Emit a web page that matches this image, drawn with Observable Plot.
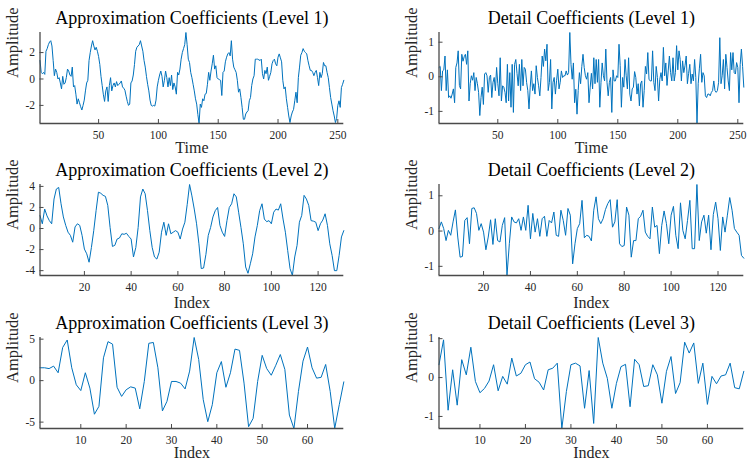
<!DOCTYPE html>
<html>
<head>
<meta charset="utf-8">
<script src="https://cdn.jsdelivr.net/npm/d3@7"></script>
<script src="https://cdn.jsdelivr.net/npm/@observablehq/plot@0.6"></script>
<style>
  body { margin: 0; background: #fff; }
  #fig { position: relative; width: 747px; height: 460px; overflow: hidden; }
  #fig > svg { position: absolute; }
</style>
</head>
<body>
<div id="fig"></div>
<script>
// Three-level wavelet decomposition: approximation and detail coefficients.
const approx1 = [
  1.4,0.5,0.4,0.5,0.35,2.1,2.3,2.6,2.8,2.9,
  2.5,1.4,0.25,0.75,0.5,0.0,0.1,-0.3,-0.75,0.2,
  -0.4,-0.3,0.1,0.75,0.6,0.3,0.2,0.9,-0.6,-0.5,
  -1.15,-1.9,-1.5,-1.8,-2.1,-2.35,-2.0,-1.6,-0.9,-0.3,
  -0.1,1.4,2.0,2.5,2.9,2.5,2.2,2.4,2.1,1.7,
  1.1,0.2,-0.5,-1.2,-1.7,-0.9,-0.6,-1.7,-0.5,0.1,
  -0.9,-0.5,-0.3,-0.6,-0.2,-0.5,-0.4,-0.3,-0.15,-0.6,
  -0.7,-0.85,-1.3,-1.7,-2.0,-1.9,-0.3,-0.15,0.3,1.1,
  2.1,2.4,2.5,2.6,2.9,2.5,2.1,1.4,0.9,0.2,
  -0.4,-0.9,-1.6,-2.0,-2.05,-2.0,-2.05,-1.6,-0.6,-0.1,
  0.3,0.6,0.2,-0.6,-0.1,0.6,0.1,-0.6,0.1,-0.5,
  0.3,-0.8,-0.3,-0.6,-1.15,0.5,0.3,0.75,1.5,2.0,
  2.3,2.6,3.52,2.6,1.5,1.25,0.5,0.1,-0.4,-0.9,
  -1.5,-1.9,-2.7,-3.37,-1.9,-2.15,-1.5,-1.65,-1.15,-1.1,
  -0.4,0.5,-0.1,0.6,1.15,1.8,0.75,1.0,0.1,0.0,
  -0.05,-0.1,-1.25,0.5,0.6,1.3,1.65,1.9,2.0,1.75,
  2.9,1.5,0.9,0.7,0.5,-0.1,-1.0,-0.75,-1.4,-2.15,
  -3.05,-3.05,-2.65,-2.5,-2.4,-1.65,-1.4,-0.5,0.0,0.25,
  1.5,1.5,1.5,1.45,1.4,1.5,0.4,0.0,0.65,0.4,
  0.9,-0.1,0.2,0.5,1.15,1.4,1.5,1.15,1.0,1.65,
  1.9,1.6,1.3,-0.1,-0.75,-0.6,-1.5,-2.15,-2.8,-3.3,
  -2.8,-2.5,-2.3,-1.65,-1.0,-1.8,0.1,0.9,1.8,2.0,
  2.3,2.1,2.0,1.9,1.4,1.0,0.65,0.65,0.5,0.25,
  0.5,0.65,0.1,-0.5,0.5,0.1,0.4,1.25,1.0,1.0,
  0.5,0.1,-0.65,-1.4,-1.9,-2.4,-2.8,-3.3,-3.0,-2.0,
  -1.65,-2.15,-0.65,-0.4,-0.1
];

const detail1 = [
  0.27,0.3,-0.4,0.17,0.2,0.6,-0.4,0.2,-0.6,-0.55,
  -0.62,-0.5,-0.35,-0.75,0.27,0.4,0.75,-0.25,-0.35,0.65,
  0.45,0.58,0.65,0.36,0.75,-0.7,-0.2,0.03,-0.1,0.12,
  -0.4,-0.02,-0.2,-0.45,-1.12,-0.6,-0.3,-0.8,0.08,0.12,
  0.03,-0.45,-0.02,0.05,-0.6,-0.16,-0.02,-0.4,0.27,-0.2,
  -0.55,0.55,-0.7,-0.26,-0.3,-0.45,-0.75,0.36,-0.7,0.12,
  -0.88,0.36,-1.03,0.36,0.5,0.1,-0.26,0.36,-0.4,0.5,
  -0.26,0.27,0.22,-0.16,-0.4,-0.93,-0.3,0.17,-0.4,-0.2,
  -0.5,0.32,-0.02,-0.26,-0.55,-0.02,0.6,0.3,0.8,0.46,
  0.94,-0.4,-0.16,0.5,-0.93,-0.16,-0.02,-0.5,-0.1,0.22,
  -0.35,-0.16,0.17,-0.02,0.03,0.03,0.17,0.05,0.12,1.28,
  0.36,-0.07,0.4,-0.75,-0.36,-1.08,-0.4,0.12,-0.2,
  0.3,0.65,0.27,0.03,-0.07,0.12,-0.75,-0.3,0.1,
  -0.35,0.55,-0.2,0.5,-0.16,0.5,-0.88,-0.16,0.4,
  0.03,-0.12,0.8,-0.16,-0.55,-0.16,-0.02,-1.03,0.2,
  -0.12,-0.12,0.03,-0.02,0.94,0.32,-0.88,-0.02,-0.3,
  0.5,0.03,-0.35,0.55,-0.5,-0.7,-0.35,-0.3,0.15,
  -0.02,-0.5,-0.2,-0.84,-0.2,-0.12,-0.88,-0.4,0.3,
  0.08,0.7,-0.07,-0.12,-0.12,0.75,-0.16,-0.4,0.3,
  -0.02,-0.7,-0.07,0.12,-0.12,0.85,0.03,0.4,-0.25,
  0.17,0.6,0.12,-0.12,0.55,-0.12,0.12,0.9,0.2,
  0.75,0.5,-0.12,0.46,0.12,0.32,0.6,-0.2,0.1,
  0.36,-0.2,0.08,-0.12,0.5,-0.02,-1.35,-0.2,0.25,
  0.65,-0.16,0.12,0.03,-0.55,-0.6,-0.5,-0.5,-0.55,
  -0.45,-0.4,-0.12,-0.4,-0.45,-0.4,-0.16,1.13,-0.2,
  0.03,0.5,-0.35,0.65,0.27,-0.12,-0.4,0.7,0.2,
  0.7,0.12,0.08,0.41,0.27,-0.75,0.36,0.8,0.3,
  -0.3
];

const approx2 = [
  1.23,0.45,1.85,1.2,0.75,0.45,2.8,3.75,3.9,2.35,
  1.1,0.3,-0.35,-0.65,-1.3,0.15,0.45,0.3,-0.65,-1.95,
  -2.4,-3.2,-1.8,-0.2,1.7,3.45,3.35,3.15,3.05,2.2,
  0.1,-1.7,-1.6,-1.0,-0.9,-0.5,-0.55,-0.45,-0.75,-1.0,
  -2.7,-1.8,0.1,3.0,3.75,3.3,1.7,-0.2,-1.8,-2.7,
  -2.9,-2.25,-0.35,0.6,-0.65,0.45,-0.5,-0.35,-0.2,-0.35,
  -1.0,-0.05,0.6,2.3,4.18,3.1,1.85,0.45,-1.45,-3.8,
  -3.75,-2.45,-0.65,0.1,1.1,1.7,2.0,0.3,-0.35,-0.75,
  0.75,2.0,2.35,3.3,3.0,1.55,0.1,-1.45,-3.65,-4.25,
  -3.35,-2.4,-0.8,0.3,1.7,2.35,0.9,0.65,0.75,0.45,
  1.55,1.85,1.75,2.35,0.9,-0.35,-2.1,-3.8,-4.46,-2.7,
  -1.6,0.6,1.25,3.15,2.8,2.2,0.75,0.7,0.6,-0.2,
  0.45,0.8,1.4,0.3,-1.45,-2.55,-4.0,-4.0,-2.55,-0.8,
  -0.2
];

const detail2 = [
  0.07,0.26,0.07,-0.27,0.02,-0.12,0.26,0.6,-0.17,-0.74,
  -0.72,0.3,0.38,-0.36,0.64,0.66,0.5,0.02,0.21,-0.03,
  -0.53,-0.17,0.32,-0.38,0.35,-0.27,-0.31,0.16,0.38,-1.26,
  -0.36,0.4,0.26,0.23,0.35,0.02,0.4,0.02,0.73,-0.22,
  0.5,-0.03,0.35,-0.15,0.35,0.42,-0.15,0.3,0.23,0.54,
  -0.12,-0.15,0.59,0.3,-0.12,0.64,0.45,-0.93,-0.36,0.07,
  0.21,0.87,-0.19,-0.12,-0.15,-0.28,0.59,0.97,0.35,0.21,
  0.35,0.61,0.78,0.89,0.11,0.26,0.89,-0.36,-0.44,-0.41,
  0.68,0.45,-0.74,-0.27,-0.27,0.35,0.42,0.59,-0.03,-0.15,
  -0.22,0.68,0.11,0.16,-0.64,0.16,0.57,0.21,-0.36,0.45,
  0.7,-0.12,-0.5,0.8,0.02,-0.22,0.3,0.87,-0.5,-0.5,
  1.32,-0.27,0.26,0.45,-0.06,0.45,-0.53,0.47,0.82,0.35,
  -0.55,0.4,-0.03,0.45,0.95,0.59,0.07,-0.03,-0.12,-0.69,
  -0.77
];

const approx3 = [
  1.55,1.55,1.45,1.75,0.95,4.0,4.9,1.55,-0.5,-1.2,
  0.95,-0.9,-4.05,-3.1,2.75,4.7,4.4,-0.8,-1.9,-1.1,
  -0.75,-0.9,-3.4,-0.1,4.5,4.6,1.55,-3.65,-2.5,-0.1,
  -0.1,-0.3,-1.0,1.15,5.2,2.55,-2.3,-4.95,-2.9,0.95,
  2.3,-0.8,0.95,3.8,3.65,-0.3,-5.55,-4.55,-0.1,3.05,
  1.45,0.65,1.85,3.15,1.35,-4.15,-5.77,-1.3,2.35,4.05,
  1.55,0.3,0.4,1.95,-1.3,-5.75,-2.9,-0.15
];

const detail3 = [
  0.33,0.97,-0.84,0.2,-0.71,0.46,0.07,0.78,-0.1,-0.39,
  -0.28,-0.09,0.33,-0.34,0.03,-0.17,0.5,0.04,0.11,0.33,
  0.4,-0.03,-0.12,-0.32,0.2,0.24,0.37,-1.31,-0.36,0.33,
  0.37,0.3,-0.79,0.18,-1.18,1.03,0.37,-0.02,-0.79,-0.15,
  0.28,0.34,-0.75,0.47,0.33,-0.23,-0.21,0.33,0.07,-0.66,
  0.16,0.54,-0.41,-0.13,0.91,0.63,0.89,-0.15,0.37,-0.69,
  0.03,-0.16,0.04,0.07,0.37,-0.26,-0.29,0.16
];

const titles = [
  "Approximation Coefficients (Level 1)", "Detail Coefficients (Level 1)",
  "Approximation Coefficients (Level 2)", "Detail Coefficients (Level 2)",
  "Approximation Coefficients (Level 3)", "Detail Coefficients (Level 3)"
];
const xLabels = ["Time", "Time", "Index", "Index", "Index", "Index"];
const yLabel = "Amplitude";
const xTicks1 = [50, 100, 150, 200, 250];
const xTicks2 = [20, 40, 60, 80, 100, 120];
const xTicks3 = [10, 20, 30, 40, 50, 60];
const yTicksA1 = [-2, 0, 2];
const yTicksA2 = [-4, -2, 0, 2, 4];
const yTicksA3 = [-5, 0, 5];
const yTicksD = [-1, 0, 1];

const BLUE = "#0072bd";
const AXIS = "#4a4a4a";
const INK = "#262626";
const FONT = "'Liberation Serif', 'DejaVu Serif', serif";

const series = [approx1, detail1, approx2, detail2, approx3, detail3];
const xTickSets = [xTicks1, xTicks1, xTicks2, xTicks2, xTicks3, xTicks3];
const yTickSets = [yTicksA1, yTicksD, yTicksA2, yTicksD, yTicksA3, yTicksD];

// column geometry: svg left edge, svg width, margins
const columns = [
  {left: 0, width: 360, marginLeft: 39.5, marginRight: 16.7},
  {left: 380, width: 367, marginLeft: 58.5, marginRight: 3.7}
];
const rowTops = [0, 152, 304.5];
const xLabelOffsets = [29.5, 32, 29.5];
const fig = document.getElementById("fig");

series.forEach((values, k) => {
  const col = columns[k % 2];
  const row = Math.floor(k / 2);
  const data = values.map((v, i) => ({i: i + 1, v}));
  const [ymin, ymax] = d3.extent(values);
  const chart = Plot.plot({
    width: col.width,
    height: 156,
    marginLeft: col.marginLeft,
    marginRight: col.marginRight,
    marginTop: 32,
    marginBottom: 33,
    style: {background: "transparent", overflow: "visible", fontFamily: FONT, color: INK},
    x: {domain: [1, values.length]},
    y: {domain: [ymin, ymax]},
    marks: [
      Plot.line(data, {x: "i", y: "v", stroke: BLUE, strokeWidth: 1}),
      Plot.ruleX([1], {stroke: AXIS, strokeWidth: 1.3}),
      Plot.ruleY([ymin], {stroke: AXIS, strokeWidth: 1.3}),
      Plot.axisX({ticks: xTickSets[k], tickSize: -4, tickPadding: 11.5, tickFormat: d => String(d),
        fontSize: 11.5, label: null, stroke: AXIS, fill: INK}),
      Plot.axisY({ticks: yTickSets[k], tickSize: -4, tickPadding: 9, tickFormat: d => String(d),
        fontSize: 11.5, label: null, stroke: AXIS, fill: INK}),
      Plot.text([titles[k]], {text: d => d, frameAnchor: "top", lineAnchor: "bottom", dy: -9,
        fontSize: 18, fill: "#000"}),
      Plot.text([xLabels[k]], {text: d => d, frameAnchor: "bottom", lineAnchor: "bottom",
        dy: xLabelOffsets[row], fontSize: 16, fill: INK}),
      Plot.text([yLabel], {text: d => d, frameAnchor: "left", lineAnchor: "bottom", rotate: -90,
        dx: -22, fontSize: 16.5, fill: INK})
    ]
  });
  chart.style.left = col.left + "px";
  chart.style.top = rowTops[row] + "px";
  fig.appendChild(chart);
});
</script>
</body>
</html>
